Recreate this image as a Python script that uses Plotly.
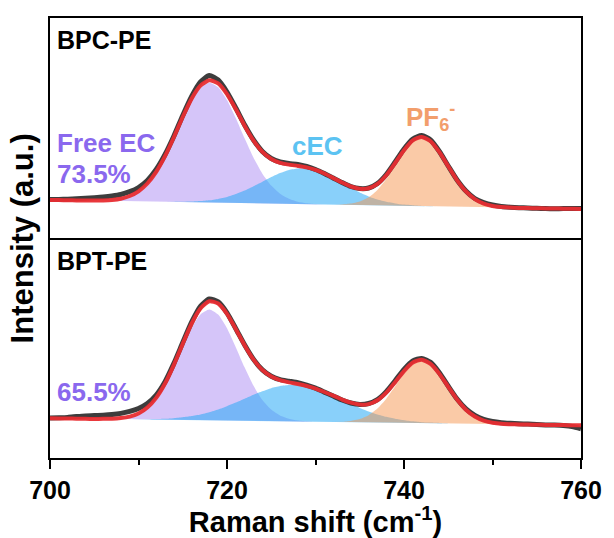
import plotly.graph_objects as go

# ---------------- data ----------------
x = list(range(700, 761))

# top panel (BPC-PE)
raw_top = [37.5, 37.6, 37.8, 38.2, 38.7, 39.3, 40.0, 41.0, 42.5, 45.3, 49.5, 56.5, 67.5, 82.5, 101.0,
           121.5, 140.5, 155.0, 161.5, 157.0, 145.0, 129.0, 112.0, 97.0, 85.5, 78.5, 75.0, 73.5, 72.5,
           70.5, 67.5, 63.5, 59.0, 54.5, 50.5, 48.5, 49.0, 53.5, 62.5, 75.0, 88.0, 98.0, 101.5, 97.0,
           85.5, 71.0, 57.0, 46.0, 38.5, 34.5, 32.0, 30.5, 29.8, 29.3, 29.0, 28.7, 28.4, 28.3, 28.4,
           28.5, 28.6]
fit_top = [37.0, 36.9, 36.7, 36.6, 36.4, 36.4, 36.6, 37.1, 38.3, 41.0, 45.7, 53.5, 65.1, 80.8, 99.8,
           120.0, 138.3, 151.4, 156.7, 153.6, 142.9, 127.7, 111.1, 96.4, 85.1, 78.0, 74.2, 72.4, 71.1,
           69.6, 67.1, 63.5, 59.0, 54.5, 50.5, 48.2, 48.7, 53.1, 61.8, 74.0, 86.8, 96.7, 100.1, 95.8,
           84.8, 70.7, 56.7, 45.6, 37.9, 33.4, 31.0, 30.0, 29.4, 29.1, 28.9, 28.8, 28.6, 28.5, 28.3,
           28.2, 28.0]
free_top_x = list(range(705, 732))
free_top = [36.4, 36.6, 37.1, 38.3, 41.0, 45.7, 53.5, 65.1, 80.8, 99.6, 119.6, 137.5, 150.0, 154.3,
            149.7, 136.9, 118.7, 98.4, 79.3, 63.3, 51.4, 43.3, 38.3, 35.3, 33.8, 33.0, 32.6]
cec_top_x = list(range(713, 745))
cec_top = [35.2, 35.1, 35.2, 35.4, 35.9, 36.7, 38.1, 40.0, 42.9, 46.4, 50.7, 55.2, 59.9, 64.0, 67.1,
           68.6, 68.5, 66.6, 63.3, 58.8, 53.9, 49.0, 44.5, 40.6, 37.5, 35.2, 33.6, 32.4, 31.7, 31.1,
           30.8, 30.5]
pf6_top_x = list(range(732, 753))
pf6_top = [32.4, 32.7, 33.4, 35.5, 39.7, 47.1, 57.9, 71.6, 85.4, 95.9, 99.7, 95.6, 84.8, 70.7, 56.7,
           45.6, 37.9, 33.4, 31.0, 30.0, 29.4]

# bottom panel (BPT-PE)
raw_bot = [38.3, 38.6, 39.0, 39.8, 40.5, 40.9, 41.2, 41.8, 43.0, 45.0, 48.0, 53.0, 61.5, 75.0, 93.5,
           114.5, 135.0, 151.0, 158.5, 155.5, 144.5, 128.5, 112.0, 97.5, 87.0, 80.5, 77.0, 75.5, 74.0,
           71.5, 68.5, 64.5, 60.5, 56.5, 53.5, 52.0, 53.0, 57.0, 65.0, 76.0, 87.5, 96.0, 98.5, 94.5,
           84.0, 70.5, 57.5, 47.5, 41.0, 37.0, 34.8, 33.6, 33.0, 32.6, 32.2, 31.8, 31.4, 31.2, 30.8,
           29.8, 27.5]
fit_bot = [38.0, 37.9, 37.8, 37.7, 37.5, 37.4, 37.5, 37.6, 38.3, 39.8, 42.9, 48.9, 58.7, 73.1, 92.0,
           113.2, 133.5, 148.9, 156.2, 153.9, 143.5, 128.0, 111.6, 97.3, 86.8, 80.3, 76.5, 74.3, 72.6,
           70.6, 68.1, 64.6, 61.0, 57.0, 53.8, 51.9, 52.4, 56.2, 63.9, 74.5, 85.7, 94.3, 97.2, 93.0,
           82.9, 69.8, 57.0, 46.7, 39.8, 35.7, 33.6, 32.5, 32.1, 31.8, 31.7, 31.6, 31.4, 31.3, 31.2,
           31.1, 31.0]
free_bot_x = list(range(706, 731))
free_bot = [37.5, 37.6, 38.2, 39.6, 42.7, 48.5, 58.0, 72.0, 90.2, 110.4, 129.3, 142.9, 147.9, 142.7,
            128.9, 109.6, 89.2, 70.8, 56.6, 46.9, 40.9, 37.5, 35.8, 35.0, 34.7]
cec_bot_x = list(range(709, 747))
cec_bot = [37.1, 37.0, 37.1, 37.3, 37.6, 38.2, 39.1, 40.3, 42.0, 44.2, 47.0, 50.3, 53.9, 57.8, 61.8,
           65.4, 68.5, 70.6, 71.6, 71.5, 70.2, 67.9, 64.6, 60.8, 56.5, 52.4, 48.5, 45.0, 42.0, 39.6,
           37.6, 36.1, 35.0, 34.2, 33.7, 33.3, 32.9, 32.7]
pf6_bot_x = list(range(732, 753))
pf6_bot = [34.5, 34.6, 35.4, 37.3, 41.2, 47.9, 57.9, 70.3, 82.9, 92.5, 96.1, 92.3, 82.5, 69.6, 56.9,
           46.7, 39.8, 35.7, 33.6, 32.5, 32.1]

x_ticks = [700, 720, 740, 760]
x_minor = [710, 730, 750]
labels = {"top": "BPC-PE", "bot": "BPT-PE"}

# ---------------- styles ----------------
C_FREE = "rgba(150,110,240,0.40)"
C_CEC = "rgba(40,170,245,0.55)"
C_PF6 = "rgba(245,150,80,0.50)"
C_RAW = "rgba(45,45,45,0.92)"
C_FIT = "rgba(232,45,50,0.95)"
FONT = "Liberation Sans"

fig = go.Figure()

def add_panel(xa, ya, fx, fy, cx, cy, px, py, raw, fit):
    for xx, yy, col in [(fx, fy, C_FREE), (cx, cy, C_CEC), (px, py, C_PF6)]:
        fig.add_trace(go.Scatter(x=xx, y=yy, mode="lines", fill="toself", fillcolor=col,
                                 line=dict(width=0, shape="spline", smoothing=0.6),
                                 xaxis=xa, yaxis=ya, hoverinfo="skip", showlegend=False))
    fig.add_trace(go.Scatter(x=x, y=raw, mode="lines",
                             line=dict(color=C_RAW, width=5, shape="spline", smoothing=0.6),
                             xaxis=xa, yaxis=ya, showlegend=False))
    fig.add_trace(go.Scatter(x=x, y=fit, mode="lines",
                             line=dict(color=C_FIT, width=4, shape="spline", smoothing=0.6),
                             xaxis=xa, yaxis=ya, showlegend=False))

add_panel("x", "y", free_top_x, free_top, cec_top_x, cec_top, pf6_top_x, pf6_top, raw_top, fit_top)
add_panel("x2", "y2", free_bot_x, free_bot, cec_bot_x, cec_bot, pf6_bot_x, pf6_bot, raw_bot, fit_bot)

yaxis_common = dict(showline=True, linewidth=2, linecolor="black", mirror=True, showgrid=False,
                    zeroline=False, showticklabels=False, ticks="")

fig.update_layout(
    width=614, height=538,
    margin=dict(l=50, r=28, t=18, b=78),
    paper_bgcolor="white", plot_bgcolor="white",
    font=dict(family=FONT, color="black"),
    xaxis=dict(range=[700, 760], anchor="y", showline=True, linewidth=2, linecolor="black",
               mirror=True, showgrid=False, zeroline=False, showticklabels=False, ticks=""),
    yaxis=dict(yaxis_common, domain=[0.5, 1.0], range=[-1, 219]),
    xaxis2=dict(range=[700, 760], anchor="y2", showline=True, linewidth=2, linecolor="black",
                mirror=False, showgrid=False, zeroline=False,
                tickvals=x_ticks, ticks="outside", ticklen=9, tickwidth=1.5, tickcolor="black",
                minor=dict(tickvals=x_minor, ticks="outside", ticklen=5, tickwidth=1.5,
                           tickcolor="black"),
                tickfont=dict(family=FONT, size=25, weight="bold", color="black"),
                title=dict(text="Raman shift (cm<sup>-1</sup>)", standoff=2,
                           font=dict(family=FONT, size=29, weight="bold", color="black"))),
    yaxis2=dict(yaxis_common, domain=[0.0, 0.5], range=[-2, 220]),
)

ann = []
def txt(text, xx, yy, xref, yref, color, size, xanchor="left"):
    ann.append(dict(text=text, x=xx, y=yy, xref=xref, yref=yref, showarrow=False, xanchor=xanchor,
                    yanchor="middle", font=dict(family=FONT, size=size, weight="bold", color=color)))

txt(labels["top"], 700.6, 197, "x", "y", "black", 25)
txt(labels["bot"], 700.6, 197, "x2", "y2", "black", 25)
txt("Free EC", 700.6, 94, "x", "y", "#8a68ee", 26)
txt("73.5%", 700.6, 63, "x", "y", "#8a68ee", 26)
txt("cEC", 730.2, 91, "x", "y", "#5cc3f2", 26, "center")
txt("PF<sub>6</sub><sup>-</sup>", 743.0, 120, "x", "y", "#f29e6c", 26, "center")
txt("65.5%", 700.6, 65, "x2", "y2", "#8a68ee", 26)
ann.append(dict(text="Intensity (a.u.)", x=-0.052, y=0.5, xref="paper", yref="paper", showarrow=False,
                textangle=-90, xanchor="center", yanchor="middle",
                font=dict(family=FONT, size=31, weight="bold", color="black")))
fig.update_layout(annotations=ann)

fig.write_html("out.html")
